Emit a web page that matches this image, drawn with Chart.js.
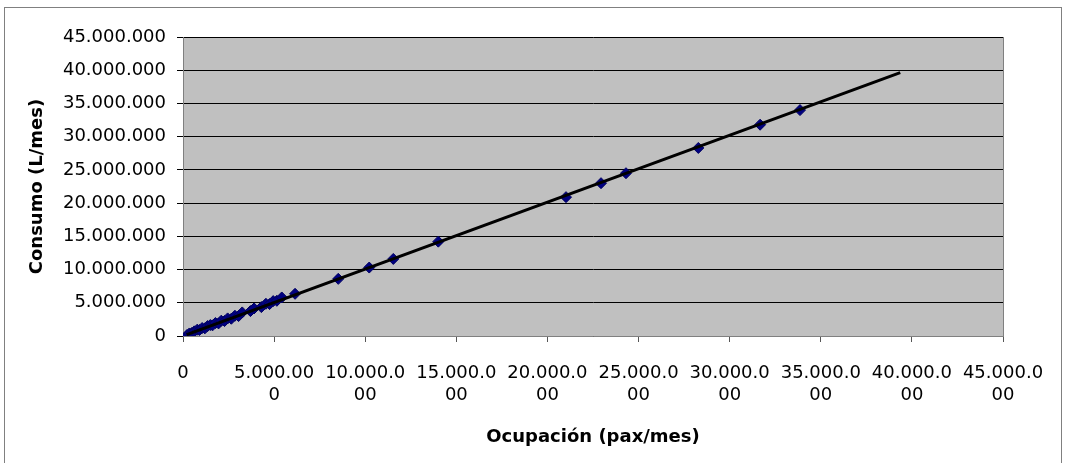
<!DOCTYPE html>
<html>
<head>
<meta charset="utf-8">
<script src="https://cdn.jsdelivr.net/npm/chart.js@4"></script>
<style>
  body { margin: 0; background: #fff; }
  canvas { display: block; }
</style>
</head>
<body>
<canvas id="chart" width="1065" height="463"></canvas>
<script>
// Ocupación (pax/mes) vs Consumo (L/mes)
const occupation = [
  220000, 350000, 480000, 620000, 780000, 900000, 1050000, 1200000, 1350000, 1500000,
  1620000, 1780000, 1950000, 2100000, 2280000, 2450000, 2650000, 2850000, 3050000, 3250000,
  3700000, 3900000, 4300000, 4550000, 4750000, 4950000, 5150000, 5420000, 6150000, 8520000,
  10220000, 11540000, 14010000, 21020000, 22940000, 24310000, 28280000, 31670000, 33860000
];
const consumption = [
  150000, 380000, 450000, 700000, 950000, 900000, 1200000, 1150000, 1500000, 1650000,
  1600000, 1950000, 1900000, 2300000, 2250000, 2650000, 2600000, 3050000, 3000000, 3550000,
  3750000, 4150000, 4350000, 4850000, 4800000, 5250000, 5300000, 5800000, 6350000, 8600000,
  10300000, 11600000, 14200000, 20900000, 23000000, 24500000, 28300000, 31800000, 34000000
];
// trend line end points
const trendX = [200000, 39360000];
const trendY = [200000, 39650000];

const axisMax = 45000000;
const axisStep = 5000000;

const fmt = v => String(Math.round(v)).replace(/\B(?=(\d{3})+(?!\d))/g, '.');

const points = occupation.map((x, i) => ({ x, y: consumption[i] }));
const trend = trendX.map((x, i) => ({ x, y: trendY[i] }));

const backdrop = {
  id: 'backdrop',
  beforeDraw(chart) {
    const { ctx, chartArea: a } = chart;
    ctx.save();
    ctx.fillStyle = '#fff';
    ctx.fillRect(0, 0, chart.width, chart.height);
    ctx.strokeStyle = '#808080';
    ctx.lineWidth = 1;
    ctx.strokeRect(4.5, 7.5, 1057, 470);
    ctx.fillStyle = '#c0c0c0';
    ctx.fillRect(a.left, a.top, a.right - a.left, a.bottom - a.top);
    ctx.restore();
  },
  afterDatasetsDraw(chart) {
    const { ctx, chartArea: a } = chart;
    ctx.save();
    ctx.strokeStyle = '#808080';
    ctx.lineWidth = 1;
    ctx.beginPath();
    ctx.moveTo(a.right + 0.5, a.top);
    ctx.lineTo(a.right + 0.5, a.bottom);
    ctx.stroke();
    ctx.restore();
  }
};

const font = { family: 'DejaVu Sans', size: 18 };
const titleFont = { family: 'DejaVu Sans', size: 18, weight: 'bold' };

new Chart(document.getElementById('chart'), {
  type: 'scatter',
  data: {
    datasets: [
      {
        data: trend,
        showLine: true,
        borderColor: '#000',
        borderWidth: 3,
        pointRadius: 0,
        order: 0
      },
      {
        data: points,
        pointStyle: 'rectRot',
        pointRadius: 5.5,
        backgroundColor: '#000080',
        borderColor: '#000060',
        borderWidth: 1,
        order: 1
      }
    ]
  },
  options: {
    responsive: false,
    animation: false,
    devicePixelRatio: 1,
    layout: { padding: { top: 37, right: 62, left: 0, bottom: 0 } },
    plugins: { legend: { display: false }, tooltip: { enabled: false } },
    scales: {
      x: {
        type: 'linear',
        min: 0,
        max: axisMax,
        afterFit: s => { s.height = 127; },
        ticks: {
          stepSize: axisStep,
          color: '#000',
          font,
          padding: 21,
          maxRotation: 0,
          autoSkip: false,
          callback: v => {
            const s = fmt(v);
            return s.length > 8 ? [s.slice(0, 8), s.slice(8)] : s;
          }
        },
        grid: { drawOnChartArea: false, drawTicks: true, tickLength: 6, color: '#555' },
        border: { color: '#808080' },
        title: {
          display: true,
          text: 'Ocupación (pax/mes)',
          color: '#000',
          font: titleFont,
          padding: { top: 0, bottom: 15 }
        }
      },
      y: {
        type: 'linear',
        min: 0,
        max: axisMax,
        afterFit: s => { s.width = 183; },
        ticks: {
          stepSize: axisStep,
          color: '#000',
          font,
          padding: 11,
          callback: v => fmt(v)
        },
        grid: { color: '#000', lineWidth: 1, tickLength: 6 },
        border: { color: '#808080' },
        title: {
          display: true,
          text: 'Consumo (L/mes)',
          color: '#000',
          font: titleFont,
          padding: { top: 27, bottom: 0 }
        }
      }
    }
  },
  plugins: [backdrop]
});
</script>
</body>
</html>
